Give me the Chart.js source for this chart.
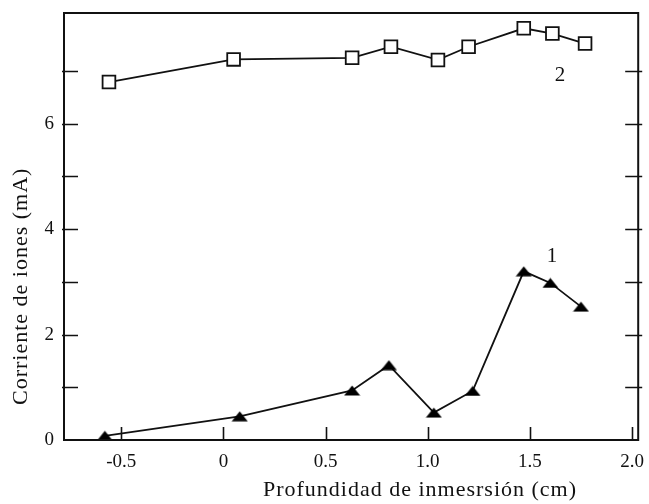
<!DOCTYPE html>
<html lang="es">
<head>
<meta charset="UTF-8">
<title>Corriente de iones</title>
<script src="https://cdn.jsdelivr.net/npm/chart.js"></script>
<style>
  html, body { margin: 0; padding: 0; background: #fff; }
  #wrap { width: 649px; height: 504px; }
</style>
</head>
<body>
<div id="wrap"><canvas id="chart"></canvas></div>
<script>
// curva 1 (triangulos)
const x1 = [-0.58, 0.08, 0.63, 0.81, 1.03, 1.22, 1.47, 1.60, 1.75];
const y1 = [0.08, 0.45, 0.94, 1.42, 0.52, 0.93, 3.20, 2.98, 2.53];
// curva 2 (cuadrados)
const x2 = [-0.56, 0.05, 0.63, 0.82, 1.05, 1.20, 1.47, 1.61, 1.77];
const y2 = [6.79, 7.22, 7.25, 7.46, 7.21, 7.46, 7.81, 7.71, 7.52];

const xTicks = [-0.5, 0, 0.5, 1.0, 1.5, 2.0];
const xTickLabels = ['-0.5', '0', '0.5', '1.0', '1.5', '2.0'];
const yTicks = [0, 1, 2, 3, 4, 5, 6, 7];
const yTickLabels = ['0', '', '2', '', '4', '', '6', ''];
const curveNames = ['1', '2'];

const serif = '"Liberation Serif", "DejaVu Serif", serif';

// flattened filled triangle used as marker
const tri = document.createElement('canvas');
tri.width = 17; tri.height = 11;
(function () {
  const c = tri.getContext('2d');
  c.fillStyle = '#000';
  c.beginPath();
  c.moveTo(8.5, 0.5); c.lineTo(16.5, 10.5); c.lineTo(0.5, 10.5);
  c.closePath(); c.fill();
})();

const frame = {
  id: 'frame',
  afterDraw(chart) {
    const { ctx, chartArea: a, scales: { x, y } } = chart;
    ctx.save();
    ctx.strokeStyle = '#111';
    ctx.lineWidth = 2;
    ctx.strokeRect(a.left, a.top, a.right - a.left, a.bottom - a.top);

    // inner ticks
    ctx.lineWidth = 1.6;
    ctx.beginPath();
    yTicks.forEach(v => {
      if (v === 0) return;
      const py = Math.round(y.getPixelForValue(v)) + 0.5;
      ctx.moveTo(a.left - 2, py); ctx.lineTo(a.left + 14, py);
      ctx.moveTo(a.right - 13, py); ctx.lineTo(a.right + 4, py);
    });
    xTicks.forEach(v => {
      const px = Math.round(x.getPixelForValue(v)) + 0.5;
      ctx.moveTo(px, a.bottom); ctx.lineTo(px, a.bottom - 13);
    });
    ctx.stroke();

    // axis titles
    ctx.fillStyle = '#111';
    ctx.font = '22px ' + serif;
    ctx.letterSpacing = '1px';
    ctx.textAlign = 'center';
    ctx.textBaseline = 'middle';
    ctx.fillText('Profundidad de inmesrsión (cm)', a.left + 0.62 * (a.right - a.left), 490);
    ctx.save();
    ctx.translate(21, a.top + 0.64 * (a.bottom - a.top));
    ctx.rotate(-Math.PI / 2);
    ctx.fillText('Corriente de iones (mA)', 0, 0);
    ctx.restore();

    // curve numbers
    ctx.font = '21px ' + serif;
    ctx.fillText(curveNames[0], x.getPixelForValue(1.61), y.getPixelForValue(3.49));
    ctx.fillText(curveNames[1], x.getPixelForValue(1.65), y.getPixelForValue(6.92));
    ctx.restore();
  }
};

new Chart(document.getElementById('chart'), {
  type: 'scatter',
  data: {
    datasets: [
      {
        data: x1.map((v, i) => ({ x: v, y: y1[i] })),
        showLine: true,
        borderColor: '#111',
        borderWidth: 1.8,
        pointStyle: tri,
        clip: false
      },
      {
        data: x2.map((v, i) => ({ x: v, y: y2[i] })),
        showLine: true,
        borderColor: '#111',
        borderWidth: 1.8,
        pointStyle: 'rect',
        pointRadius: 9,
        pointBackgroundColor: '#fff',
        pointBorderColor: '#111',
        pointBorderWidth: 1.8,
        clip: false
      }
    ]
  },
  options: {
    responsive: true,
    maintainAspectRatio: false,
    animation: false,
    layout: { padding: { top: 13, right: 10, left: 0, bottom: 0 } },
    plugins: { legend: { display: false }, tooltip: { enabled: false } },
    scales: {
      x: {
        type: 'linear',
        min: -0.78,
        max: 2.03,
        afterBuildTicks: s => { s.ticks = xTicks.map(v => ({ value: v })); },
        afterFit: s => { s.height = 64; s.paddingLeft = 0; s.paddingRight = 0; },
        grid: { display: false, drawTicks: false },
        border: { display: false },
        ticks: {
          padding: 11,
          color: '#111',
          font: { family: serif, size: 19 },
          callback: v => xTickLabels[xTicks.indexOf(v)]
        }
      },
      y: {
        type: 'linear',
        min: 0,
        max: 8.1,
        afterBuildTicks: s => { s.ticks = yTicks.map(v => ({ value: v })); },
        afterFit: s => { s.width = 64; s.paddingTop = 0; s.paddingBottom = 0; },
        grid: { display: false, drawTicks: false },
        border: { display: false },
        ticks: {
          padding: 10,
          color: '#111',
          font: { family: serif, size: 19 },
          callback: v => yTickLabels[yTicks.indexOf(v)]
        }
      }
    }
  },
  plugins: [frame]
});
</script>
</body>
</html>
